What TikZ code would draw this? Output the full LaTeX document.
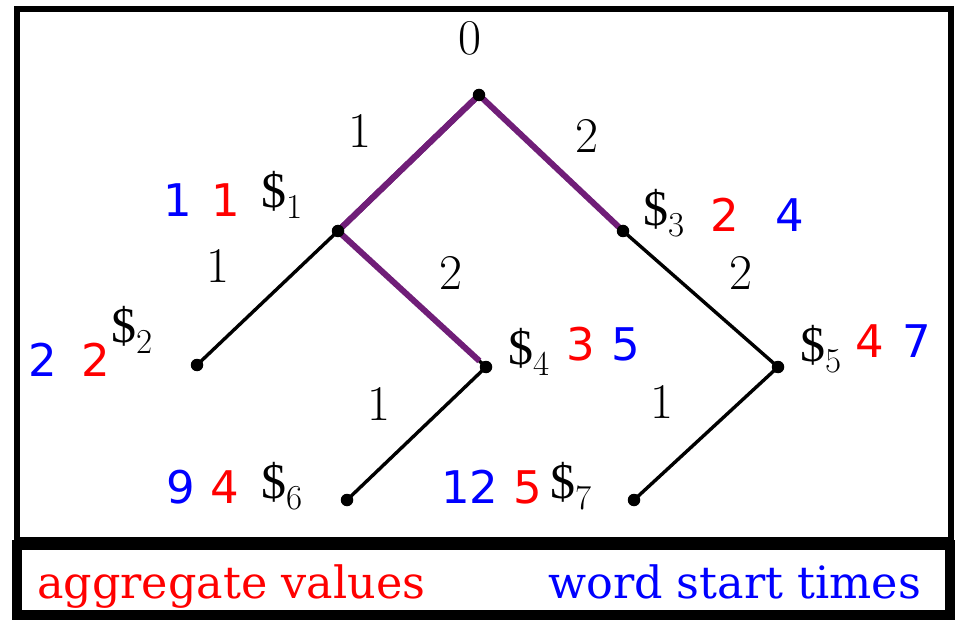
\documentclass[tikz,border=0pt]{standalone}
\usepackage{fontspec}
\newfontfamily\dvsans{DejaVu Sans}
\newfontfamily\dvserif{DejaVu Serif}
\newfontfamily\libserif{Liberation Serif}
\definecolor{pathpurple}{RGB}{112,30,120}
\definecolor{blu}{RGB}{0,0,255}
\definecolor{rd}{RGB}{255,0,0}
\newcommand{\dollarsub}[1]{{\libserif\$}\raisebox{-0.22em}{\fontsize{35}{40}\selectfont #1}}
\begin{document}
\begin{tikzpicture}[x=1pt,y=-1pt,
  dot/.style={circle,fill=black,inner sep=0pt,minimum size=12.5pt},
  edge/.style={draw=black,line width=3.4pt},
  best/.style={draw=pathpurple,line width=6pt},
  lab/.style={font=\fontsize{50}{60}\selectfont,inner sep=0pt,anchor=base},
  dol/.style={font=\fontsize{50}{60}\selectfont,inner sep=0pt,anchor=base west},
  bnum/.style={font=\dvsans\fontsize{45}{54}\selectfont,text=blu,inner sep=0pt,anchor=base},
  rnum/.style={font=\dvsans\fontsize{45}{54}\selectfont,text=rd,inner sep=0pt,anchor=base},
  legend/.style={font=\dvserif\fontsize{44.5}{52}\selectfont,inner sep=0pt,anchor=base west},
  frame/.style={draw=black,line width=6pt,miter limit=10},
  legframe/.style={draw=black,line width=10pt}
]
\useasboundingbox (0,0) rectangle (956,620);
% frames
\draw[frame] (17,9) rectangle (951,540);
\draw[legframe] (17,545) rectangle (950,615);
% tree points
\coordinate (r) at (479,95);
\coordinate (n1) at (338,231);
\coordinate (n3) at (623,231);
\coordinate (n2) at (197,365);
\coordinate (n4) at (486,367);
\coordinate (n5) at (778,367);
\coordinate (n6) at (347,500);
\coordinate (n7) at (634,500);
% edges
\draw[edge] (r) -- (n1);
\draw[edge] (r) -- (n3);
\draw[edge] (n1) -- (n2);
\draw[edge] (n1) -- (n4);
\draw[edge] (n3) -- (n5);
\draw[edge] (n4) -- (n6);
\draw[edge] (n5) -- (n7);
% best path
\draw[best,line join=miter] (n1) -- (r) -- (n3);
\draw[best,line join=miter,shorten >=9pt] (r) -- (n1) -- (n4);
% dots
\foreach \p in {r,n1,n2,n3,n4,n5,n6,n7}{\node[dot] at (\p) {};}
% edge labels
\node[lab] (l0) at (470,55) {0};
\node[lab] (e1) at (360,148) {1};
\node[lab] (e2) at (587,153) {2};
\node[lab] (e3) at (218,283) {1};
\node[lab] (e4) at (451,290) {2};
\node[lab] (e5) at (741,290) {2};
\node[lab] (e6) at (379,420) {1};
\node[lab] (e7) at (662,418) {1};
% node labels
\node[bnum] (b1) at (178,217) {1};
\node[rnum] (a1) at (226,217) {1};
\node[dol] (d1) at (261,208) {\dollarsub{1}};
\node[dol] (d3) at (643,226) {\dollarsub{3}};
\node[rnum] (a3) at (725,232) {2};
\node[bnum] (b3) at (790,232) {4};
\node[bnum] (b2) at (43,377) {2};
\node[rnum] (a2) at (96,377) {2};
\node[dol] (d2) at (111,342) {\dollarsub{2}};
\node[dol] (d4) at (508,364) {\dollarsub{4}};
\node[rnum] (a4) at (581,360) {3};
\node[bnum] (b4) at (626,360) {5};
\node[dol] (d5) at (800,362) {\dollarsub{5}};
\node[rnum] (a5) at (870,357) {4};
\node[bnum] (b5) at (917,357) {7};
\node[bnum] (b6) at (181,503) {9};
\node[rnum] (a6) at (225,503) {4};
\node[dol] (d6) at (261,498) {\dollarsub{6}};
\node[bnum] (b7) at (470,503) {12};
\node[rnum] (a7) at (528,503) {5};
\node[dol] (d7) at (550,498) {\dollarsub{7}};
% legend
\node[legend,text=rd] (agg) at (37,598) {aggregate values};
\node[legend,text=blu] (wst) at (548,598) {word start times};
\end{tikzpicture}
\end{document}
